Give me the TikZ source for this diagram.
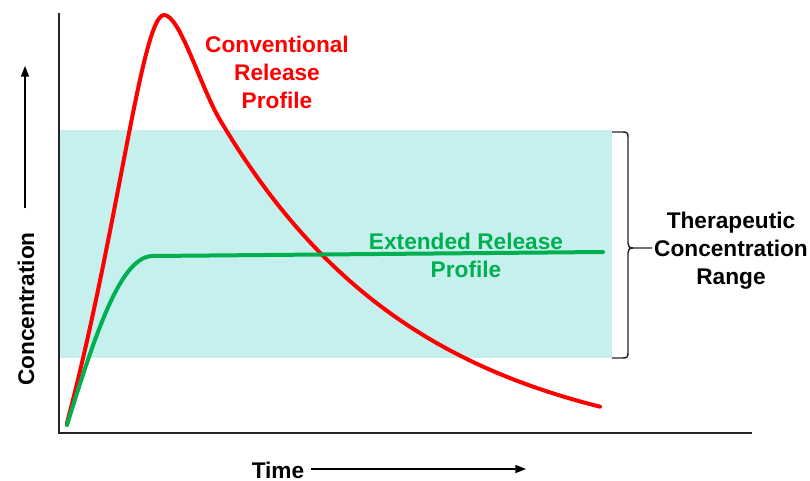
\documentclass[tikz,border=0pt]{standalone}
\usepackage{fontspec}
\setmainfont{Liberation Sans}
\usetikzlibrary{arrows.meta}
\definecolor{convred}{RGB}{255,0,0}
\definecolor{extgreen}{RGB}{0,176,80}
\definecolor{rangecyan}{RGB}{198,240,238}
\tikzset{
  lbl/.style={font=\fontsize{17}{21}\selectfont\bfseries, align=center, inner sep=0pt},
  axisline/.style={line width=1.9pt, black!85},
  curve/.style={line width=3pt, line cap=round, line join=round},
  guide/.style={line width=1.1pt, -{Triangle[length=8pt,width=6pt]}},
}
\begin{document}
\begin{tikzpicture}[x=0.75pt,y=-0.75pt]
\useasboundingbox (0,0) rectangle (810,481);
% therapeutic band
\fill[rangecyan] (60,130) rectangle (612,358);
% bracket
\draw[line width=1.1pt, black!85, line join=round]
  (612,132) -- (623,132) .. controls (627,132) and (628,133) .. (628,137)
  -- (628,243) .. controls (628,246) and (629,248) .. (633,248) -- (652,248);
\draw[line width=1.1pt, black!85, line join=round]
  (633,248) .. controls (629,248) and (628,250) .. (628,253)
  -- (628,353) .. controls (628,357) and (627,358) .. (623,358) -- (612,358);
% axes
\coordinate (origin) at (59,433);
\coordinate (ytop) at (59,13);
\coordinate (xend) at (752,433);
\draw[axisline] (ytop) -- (origin) -- (xend);
% curves
\draw[curve, convred] (67,423) .. controls (118,230) and (142,15) .. (164,15)
  .. controls (180,15) and (200,86) .. (220,120)
  -- plot[domain=220:600, samples=80] ({\x},{457-337*exp(-0.005*(\x-220))});
\draw[curve, extgreen] (67,425) .. controls (98,325) and (122,256) .. (153,256) -- (603,252);
% labels
\node[lbl, text=convred] (conv) at (277,72) {Conventional\\Release\\Profile};
\node[lbl, text=extgreen] (ext) at (466,255) {Extended Release\\Profile};
\node[lbl] (ther) at (731,251) {Therapeutic\\Concentration\\Range};
\node[lbl, rotate=90] (conc) at (26,309) {Concentration};
\node[lbl] (time) at (278,470) {Time};
% guide arrows
\coordinate (yarrowtail) at (25,208);
\coordinate (yarrowhead) at (25,66);
\coordinate (xarrowtail) at (311,469);
\coordinate (xarrowhead) at (526,469);
\draw[guide] (yarrowtail) -- (yarrowhead);
\draw[guide] (xarrowtail) -- (xarrowhead);
\end{tikzpicture}
\end{document}
